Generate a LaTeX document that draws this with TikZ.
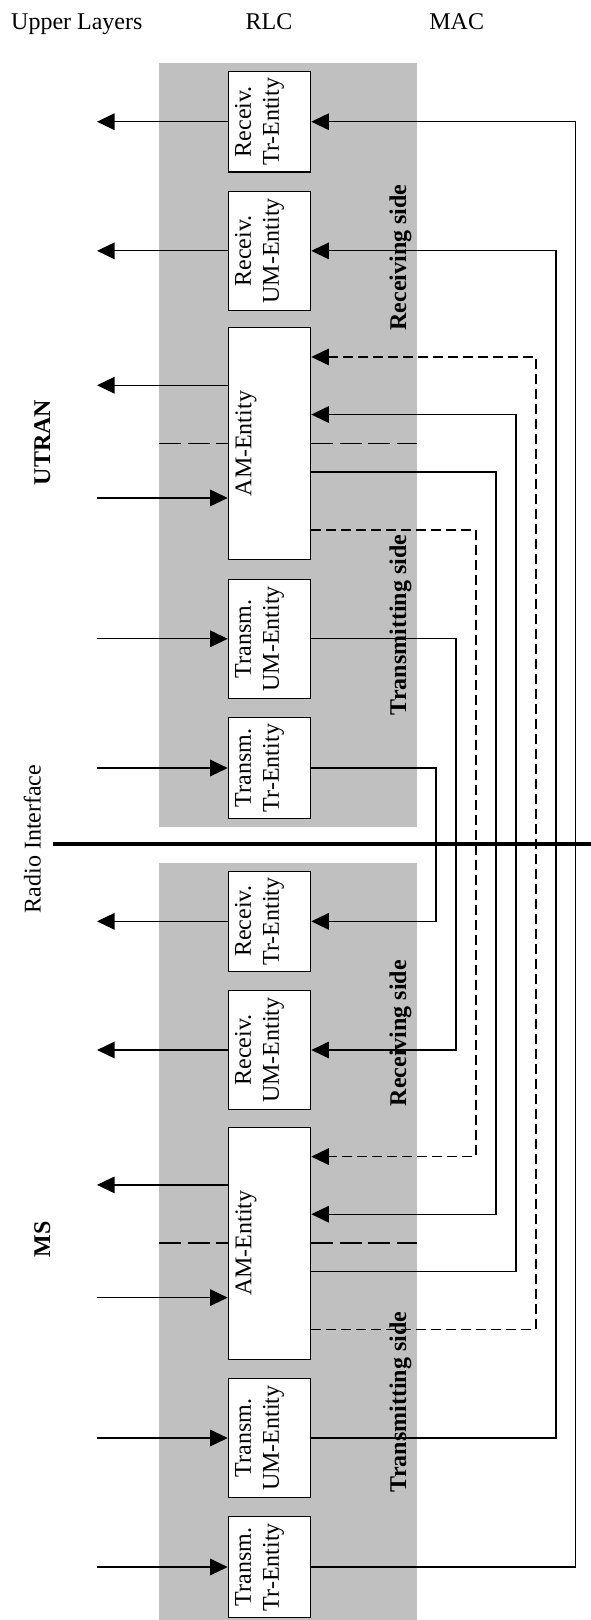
\documentclass[tikz,border=0pt]{standalone}
\usepackage{fontspec}
\setmainfont{Liberation Serif}
\usetikzlibrary{arrows.meta}
\definecolor{bandgray}{RGB}{192,192,192}
\begin{document}
\begin{tikzpicture}[x=1pt,y=-1pt,
  txt/.style={font=\fontsize{24}{28}\selectfont, inner sep=0pt},
  bold/.style={font=\fontsize{24}{28}\selectfont\bfseries, inner sep=0pt},
  entity/.style={draw=black, line width=1.2pt, fill=white, inner sep=0pt, minimum width=82.4pt},
  trbox/.style={entity, minimum height=100.4pt},
  umbox/.style={entity, minimum height=118.8pt},
  ambox/.style={entity, minimum height=231.6pt},
  etext/.style={txt, rotate=90, align=center},
  conn/.style={line width=1.2pt},
  tip/.style={conn, -{Triangle[length=17.5pt,width=16.5pt]}},
  dconn/.style={conn, dash pattern=on 10pt off 5pt},
  dtip/.style={dconn, -{Triangle[length=17.5pt,width=16.5pt]}},
  sepline/.style={line width=1.2pt, dash pattern=on 22pt off 6.5pt},
  band/.style={fill=bandgray, draw=none, inner sep=0pt, outer sep=0pt},
  side/.style={bold, rotate=90, anchor=base},
]
\useasboundingbox (0,0) rectangle (591,1620);

% grey bands
\node[band, minimum width=257.7pt, minimum height=763.4pt] (bandU) at (287.85,445) {};
\node[band, minimum width=257.7pt, minimum height=756.7pt] (bandL) at (287.85,1241.65) {};

% lanes
\coordinate (ul) at (97,0);
\coordinate (l1) at (436,0);
\coordinate (l2) at (456,0);
\coordinate (l3) at (476,0);
\coordinate (l4) at (496,0);
\coordinate (l5) at (516,0);
\coordinate (l6) at (536,0);
\coordinate (l7) at (556,0);
\coordinate (l8) at (575.5,0);

% UTRAN entities
\node[trbox] (rtrU) at (269.5,121.7) {};
\node[umbox] (rumU) at (269.5,250.85) {};
\node[ambox] (amU) at (269.5,443.65) {};
\node[umbox] (tumU) at (269.5,638.8) {};
\node[trbox] (ttrU) at (269.5,768) {};
% MS entities
\node[trbox] (rtrL) at (269.5,921.35) {};
\node[umbox] (rumL) at (269.5,1050) {};
\node[ambox] (amL) at (269.5,1243.3) {};
\node[umbox] (tumL) at (269.5,1438) {};
\node[trbox] (ttrL) at (269.5,1567) {};

% AM ports
\foreach \b in {amU,amL}{
  \coordinate (\b din) at ([yshift=-29.7pt]\b.north east);
  \coordinate (\b sin) at ([yshift=-87.3pt]\b.north east);
  \coordinate (\b sout) at ([yshift=-144.8pt]\b.north east);
  \coordinate (\b dout) at ([yshift=-202.7pt]\b.north east);
  \coordinate (\b lout) at ([yshift=-58pt]\b.north west);
  \coordinate (\b lin) at ([yshift=-170.7pt]\b.north west);
  \coordinate (\b sepL) at ([yshift=-116pt]\b.north west);
  \coordinate (\b sepR) at ([yshift=-116pt]\b.north east);
}

% separators
\draw[sepline] (bandU.west |- amUsepL) -- (amUsepL);
\draw[sepline] (amUsepR) -- (bandU.east |- amUsepR);
\draw[sepline] (bandL.west |- amLsepL) -- (amLsepL);
\draw[sepline] (amLsepR) -- (bandL.east |- amLsepR);

% radio interface
\coordinate (riL) at (53,844);
\coordinate (riR) at (591,844);
\draw[line width=4pt] (riL) -- (riR);

% to/from upper layers
\foreach \b in {rtrU,rumU,rtrL,rumL}{
  \draw[tip] (\b.west) -- (\b.west -| ul);
}
\draw[tip] (amUlout) -- (amUlout -| ul);
\draw[tip] (amLlout) -- (amLlout -| ul);
\foreach \b in {tumU,ttrU,tumL,ttrL}{
  \draw[tip] (\b.west -| ul) -- (\b.west);
}
\draw[tip] (amUlin -| ul) -- (amUlin);
\draw[tip] (amLlin -| ul) -- (amLlin);

% MAC connections UTRAN -> MS
\draw[tip] (ttrU.east) -- (ttrU.east -| l1) -- (rtrL.east -| l1) -- (rtrL.east);
\draw[tip] (tumU.east) -- (tumU.east -| l2) -- (rumL.east -| l2) -- (rumL.east);
\draw[dtip] (amUdout) -- (amUdout -| l3) -- (amLdin -| l3) -- (amLdin);
\draw[tip] (amUsout) -- (amUsout -| l4) -- (amLsin -| l4) -- (amLsin);
% MS -> UTRAN
\draw[tip] (amLsout) -- (amLsout -| l5) -- (amUsin -| l5) -- (amUsin);
\draw[dtip] (amLdout) -- (amLdout -| l6) -- (amUdin -| l6) -- (amUdin);
\draw[tip] (tumL.east) -- (tumL.east -| l7) -- (rumU.east -| l7) -- (rumU.east);
\draw[tip] (ttrL.east) -- (ttrL.east -| l8) -- (rtrU.east -| l8) -- (rtrU.east);

% entity texts
\node[etext] (rtrUt) at ([xshift=-10pt]rtrU.center) {Receiv.\\Tr-Entity};
\node[etext] (rumUt) at ([xshift=-10pt]rumU.center) {Receiv.\\UM-Entity};
\node[etext] (amUt) at ([xshift=-23.5pt]amU.center) {AM-Entity};
\node[etext] (tumUt) at ([xshift=-10pt]tumU.center) {Transm.\\UM-Entity};
\node[etext] (ttrUt) at ([xshift=-10pt]ttrU.center) {Transm.\\Tr-Entity};
\node[etext] (rtrLt) at ([xshift=-10pt]rtrL.center) {Receiv.\\Tr-Entity};
\node[etext] (rumLt) at ([xshift=-10pt]rumL.center) {Receiv.\\UM-Entity};
\node[etext] (amLt) at ([xshift=-23.5pt]amL.center) {AM-Entity};
\node[etext] (tumLt) at ([xshift=-10pt]tumL.center) {Transm.\\UM-Entity};
\node[etext] (ttrLt) at ([xshift=-10pt]ttrL.center) {Transm.\\Tr-Entity};

% side labels
\node[side] (rsU) at (406,257.5) {Receiving side};
\node[side] (tsU) at (406,625) {Transmitting side};
\node[side] (rsL) at (406,1033) {Receiving side};
\node[side] (tsL) at (406,1402) {Transmitting side};

% headings
\node[txt, anchor=base west] (ulay) at (11,29.5) {Upper Layers};
\node[txt, anchor=base] (rlc) at (269,29.5) {RLC};
\node[txt, anchor=base] (mac) at (456.7,29.5) {MAC};
\node[side] (utran) at (50,442.5) {UTRAN};
\node[side] (ms) at (50,1239) {MS};
\node[txt, rotate=90, anchor=base] (radio) at (40.5,839) {Radio Interface};
\end{tikzpicture}
\end{document}
